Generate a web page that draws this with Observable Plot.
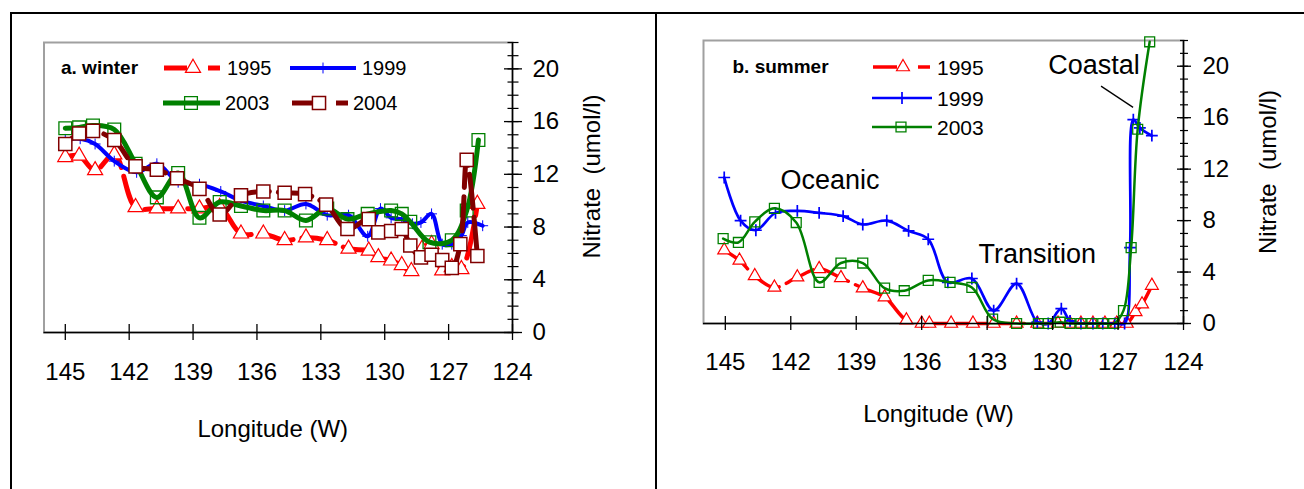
<!DOCTYPE html>
<html>
<head>
<meta charset="utf-8">
<script src="https://cdn.jsdelivr.net/npm/d3@7"></script>
<script src="https://cdn.jsdelivr.net/npm/@observablehq/plot@0.6"></script>
<style>
  html, body { margin: 0; padding: 0; background: #fff; }
  #fig { position: relative; width: 1304px; height: 489px; overflow: hidden; background: #fff; }
  #fig .panel { position: absolute; top: 0; }
  #fig .rule { position: absolute; background: #000; z-index: 3; }
  #fig svg.legend { position: absolute; left: 0; top: 0; z-index: 4; pointer-events: none; }
</style>
</head>
<body>
<div id="fig"></div>
<script>
// Longitude ticks (degrees W) and nitrate ticks (umol/l)
const lonTicks = [145, 142, 139, 136, 133, 130, 127, 124];
const nitrateTicks = [0, 4, 8, 12, 16, 20];
const nitrateMinorTicks = d3.range(0, 23, 1);

// ---- a. winter ----
const winter1995Lon = [145.0, 144.35, 143.6, 142.7, 141.7, 140.7, 139.7, 138.7, 137.75, 136.75, 135.7, 134.7, 133.7, 132.7, 131.7, 130.75, 130.3, 129.7, 129.2, 128.75, 128.25, 127.8, 127.3, 126.85, 126.4, 125.65];
const winter1995 = [13.3, 13.4, 12.3, 13.5, 9.5, 9.4, 9.4, 9.4, 9.5, 7.5, 7.5, 7.0, 7.2, 7.0, 6.35, 6.2, 5.7, 5.45, 5.1, 4.65, 6.35, 6.7, 4.7, 4.95, 4.8, 9.75];

const winter1999Lon = [145.0, 144.3, 143.6, 142.7, 141.65, 140.7, 139.7, 138.7, 137.7, 136.75, 135.7, 134.7, 133.7, 132.7, 131.7, 130.8, 130.2, 129.7, 129.2, 128.7, 128.3, 127.8, 127.3, 126.85, 126.4, 126.1, 125.4];
const winter1999 = [14.65, 14.7, 14.3, 13.0, 12.15, 12.8, 11.4, 11.25, 10.7, 10.0, 9.6, 9.25, 9.75, 8.9, 8.9, 7.3, 9.4, 8.7, 8.6, 8.25, 8.35, 9.0, 6.7, 6.7, 7.35, 8.35, 8.1];

const winter2003Lon = [145.0, 144.35, 143.7, 142.7, 141.7, 140.7, 139.7, 138.7, 137.75, 136.75, 135.7, 134.7, 133.7, 132.7, 131.75, 130.8, 129.7, 129.2, 128.8, 127.9, 126.85, 126.15, 125.6];
const winter2003 = [15.5, 15.56, 15.7, 15.4, 12.8, 10.25, 12.1, 8.7, 9.9, 9.6, 9.25, 9.25, 8.5, 9.4, 8.6, 9.0, 9.25, 9.0, 8.4, 6.85, 7.0, 9.25, 14.6];

const winter2004Lon = [145.0, 144.35, 143.7, 142.7, 141.7, 140.7, 139.75, 138.7, 137.75, 136.75, 135.7, 134.7, 133.74, 132.75, 131.75, 130.75, 130.3, 129.7, 129.2, 128.8, 128.3, 127.8, 127.3, 126.85, 126.45, 126.15, 125.65];
const winter2004 = [14.3, 15.1, 15.3, 14.6, 12.6, 12.35, 11.7, 10.9, 8.95, 10.4, 10.7, 10.6, 10.5, 9.7, 7.85, 8.6, 7.6, 7.7, 7.85, 6.6, 5.7, 5.9, 5.5, 4.9, 6.7, 13.1, 5.8];

// ---- b. summer ----
const summer1995Lon = [145.05, 144.35, 143.65, 142.75, 141.7, 140.7, 139.7, 138.7, 137.7, 136.7, 136.0, 135.65, 134.65, 133.65, 132.7, 131.65, 130.7, 129.75, 129.2, 128.7, 128.15, 127.6, 127.06, 126.6, 126.2, 125.9, 125.45];
const summer1995 = [5.7, 4.9, 3.7, 2.8, 3.6, 4.25, 3.55, 2.75, 2.05, 0.25, 0, 0, 0, 0, 0, 0, 0, 0, 0, 0, 0, 0, 0, 0, 0.9, 1.5, 2.95];

const summer1999Lon = [145.05, 144.3, 143.6, 142.7, 141.7, 140.7, 139.6, 138.7, 137.6, 136.6, 135.7, 134.8, 133.7, 132.7, 131.65, 130.7, 130.2, 129.6, 129.2, 128.7, 128.15, 127.7, 127.15, 126.7, 126.45, 126.3, 126.0, 125.45];
const summer1999 = [11.35, 8.0, 7.25, 8.6, 8.75, 8.6, 8.35, 7.7, 8.0, 7.2, 6.55, 3.2, 3.5, 1.0, 3.1, 0.1, 0, 1.15, 0.2, 0, 0, 0, 0, 0, 5.9, 15.85, 15.2, 14.6];

const summer2003Lon = [145.1, 144.4, 143.65, 142.75, 141.75, 140.7, 139.7, 138.7, 137.7, 136.8, 135.7, 134.7, 133.7, 132.75, 131.65, 130.65, 130.2, 129.65, 129.2, 128.7, 128.2, 127.7, 127.2, 126.75, 126.4, 126.1, 125.55];
const summer2003 = [6.6, 6.3, 7.9, 8.95, 7.85, 3.2, 4.7, 4.7, 2.75, 2.55, 3.35, 3.2, 2.8, 0.35, 0, 0, 0, 0.1, 0, 0, 0, 0, 0, 1.0, 5.9, 15.1, 21.9];

// Water-mass annotations on the summer panel
const regionNames = ["Oceanic", "Transition", "Coastal"];
const regionLon = [140.2, 130.7, 128.1];
const regionValue = [11.15, 5.4, 20.1];
// Leader from the "Coastal" label to the 1999 peak
const coastalLeader = [{lon1: 127.78, v1: 18.45, lon2: 126.31, v2: 16.8}];

const FONT = '"Liberation Sans", Arial, Helvetica, sans-serif';
const rows = (lon, val) => lon.map((x, i) => ({lon: x, value: val[i]}));

const styles = {
  winter: [
    {year: "1995", rows: rows(winter1995Lon, winter1995), color: "#ff0000", width: 5, dash: "34,9", symbol: "triangle", r: 5.6, fill: "#fff", sw: 1.2},
    {year: "1999", rows: rows(winter1999Lon, winter1999), color: "#0000ff", width: 4, dash: null, symbol: "plus", r: 3.6, fill: "none", sw: 1},
    {year: "2003", rows: rows(winter2003Lon, winter2003), color: "#008000", width: 5, dash: null, symbol: "square", r: 7.2, fill: "none", sw: 1.3},
    {year: "2004", rows: rows(winter2004Lon, winter2004), color: "#800000", width: 5, dash: "34,9", symbol: "square", r: 7.4, fill: "#fff", sw: 1.5}
  ],
  summer: [
    {year: "1995", rows: rows(summer1995Lon, summer1995), color: "#ff0000", width: 3.5, dash: "30,8", symbol: "triangle", r: 4.8, fill: "#fff", sw: 1.2},
    {year: "1999", rows: rows(summer1999Lon, summer1999), color: "#0000ff", width: 2.7, dash: null, symbol: "plus", r: 3.9, fill: "none", sw: 1.7},
    {year: "2003", rows: rows(summer2003Lon, summer2003), color: "#008000", width: 2.5, dash: null, symbol: "square", r: 5.6, fill: "none", sw: 1.3}
  ]
};

function seriesMarks(list) {
  return list.flatMap(s => [
    Plot.line(s.rows, {x: "lon", y: "value", stroke: s.color, strokeWidth: s.width,
      strokeDasharray: s.dash, curve: "catmull-rom", strokeLinejoin: "round"}),
    Plot.dot(s.rows, {x: "lon", y: "value", symbol: () => s.symbol, r: s.r,
      fill: s.fill, stroke: s.color, strokeWidth: s.sw})
  ]);
}

function panel(opts) {
  const {series, width, margins, xTick, yTick, yMinor, xPad, yPad, name, nameDx, nameDy,
         xTitleDx, xTitleDy, yTitleDx, yTitleDy, extra = []} = opts;
  return Plot.plot({
    width, height: 489,
    marginLeft: margins[0], marginRight: margins[1], marginTop: margins[2], marginBottom: margins[3],
    style: {background: "transparent", fontFamily: FONT, color: "#000", overflow: "visible"},
    x: {domain: [146, 124]},
    y: {domain: [0, 22]},
    marks: [
      Plot.frame({stroke: "#a0a0a0", strokeWidth: 2}),
      ...seriesMarks(series),
      ...extra,
      Plot.ruleY([0], {stroke: "#000", strokeWidth: 1.5}),
      Plot.ruleX([124], {stroke: "#000", strokeWidth: 1.5}),
      Plot.axisX({ticks: lonTicks, anchor: "bottom", tickSize: 2 * xTick, dy: -xTick,
        tickPadding: xPad, strokeWidth: 1.3, fontSize: 24, label: null, tickFormat: d => String(d)}),
      Plot.axisY({ticks: nitrateMinorTicks, anchor: "right", tickSize: 2 * yMinor, dx: -yMinor,
        strokeWidth: 1.2, text: null, label: null}),
      Plot.axisY({ticks: nitrateTicks, anchor: "right", tickSize: 2 * yTick, dx: -yTick,
        tickPadding: yPad, strokeWidth: 1.3, fontSize: 24, label: null, tickFormat: d => String(d)}),
      Plot.text([name], {frameAnchor: "top-left", dx: nameDx, dy: nameDy, textAnchor: "start",
        lineAnchor: "middle", fontWeight: "bold", fontSize: 19}),
      Plot.text(["Longitude (W)"], {frameAnchor: "bottom", dx: xTitleDx, dy: xTitleDy,
        textAnchor: "middle", lineAnchor: "middle", fontSize: 24}),
      Plot.text(["Nitrate  (umol/l)"], {frameAnchor: "right", dx: yTitleDx, dy: yTitleDy, rotate: -90,
        textAnchor: "middle", lineAnchor: "middle", fontSize: 24})
    ]
  });
}

const fig = document.getElementById("fig");

const winterPlot = panel({
  series: styles.winter, width: 656, margins: [43.5, 144, 42, 157],
  xTick: 8, yTick: 9, yMinor: 5.5, xPad: 22, yPad: 11,
  name: "a. winter", nameDx: 17, nameDy: 25,
  xTitleDx: -5.5, xTitleDy: 97, yTitleDx: 80, yTitleDy: -11
});
winterPlot.classList.add("panel");
winterPlot.style.left = "0px";
fig.appendChild(winterPlot);

const summerPlot = panel({
  series: styles.summer, width: 648, margins: [47, 121, 40, 166],
  xTick: 7, yTick: 7, yMinor: 4, xPad: 22, yPad: 12,
  name: "b. summer", nameDx: 29, nameDy: 26,
  xTitleDx: -5, xTitleDy: 91, yTitleDx: 85, yTitleDy: -10,
  extra: [
    Plot.link(coastalLeader, {x1: "lon1", y1: "v1", x2: "lon2", y2: "v2", stroke: "#000", strokeWidth: 1.3}),
    Plot.text(regionNames, {x: (d, i) => regionLon[i], y: (d, i) => regionValue[i], text: d => d, fontSize: 27})
  ]
});
summerPlot.classList.add("panel");
summerPlot.style.left = "656px";
fig.appendChild(summerPlot);

// Outer box: top edge, left edge and the divider between the panels
[[10, 12, 1294, 2], [10, 12, 2, 477], [654.5, 12, 2, 477]].forEach(([l, t, w, h]) => {
  const d = document.createElement("div");
  d.className = "rule";
  Object.assign(d.style, {left: l + "px", top: t + "px", width: w + "px", height: h + "px"});
  fig.appendChild(d);
});

// Legends
const legendSvg = d3.select(fig).append("svg").attr("class", "legend")
  .attr("width", 1304).attr("height", 489);

const symbolTypes = {triangle: d3.symbolTriangle, plus: d3.symbolPlus, square: d3.symbolSquare};

function drawLegend(list, layout, fontSize) {
  list.forEach((s, i) => {
    const L = layout[i];
    const g = legendSvg.append("g");
    L.segs.forEach(([a, b]) => {
      g.append("line").attr("x1", a).attr("x2", b).attr("y1", L.y).attr("y2", L.y)
        .attr("stroke", s.color).attr("stroke-width", s.width);
    });
    g.append("path")
      .attr("d", d3.symbol(symbolTypes[s.symbol], Math.PI * s.r * s.r)())
      .attr("transform", `translate(${L.sx},${L.y})`)
      .attr("fill", s.fill).attr("stroke", s.color).attr("stroke-width", s.sw);
    g.append("text").attr("x", L.tx).attr("y", L.y).attr("dy", "0.36em")
      .attr("font-family", FONT).attr("font-size", fontSize).text(s.year);
  });
}

drawLegend(styles.winter, [
  {y: 68, segs: [[164, 187], [208, 220]], sx: 193, tx: 227},
  {y: 68, segs: [[290, 356]], sx: 323, tx: 362},
  {y: 103, segs: [[163, 220]], sx: 191, tx: 225},
  {y: 103, segs: [[292, 313], [336, 348]], sx: 319, tx: 353}
], 20);

drawLegend(styles.summer, [
  {y: 67, segs: [[873, 897], [918, 930]], sx: 903, tx: 937},
  {y: 98, segs: [[872, 932]], sx: 902, tx: 937},
  {y: 127, segs: [[872, 932]], sx: 901, tx: 937}
], 21);
</script>
</body>
</html>
